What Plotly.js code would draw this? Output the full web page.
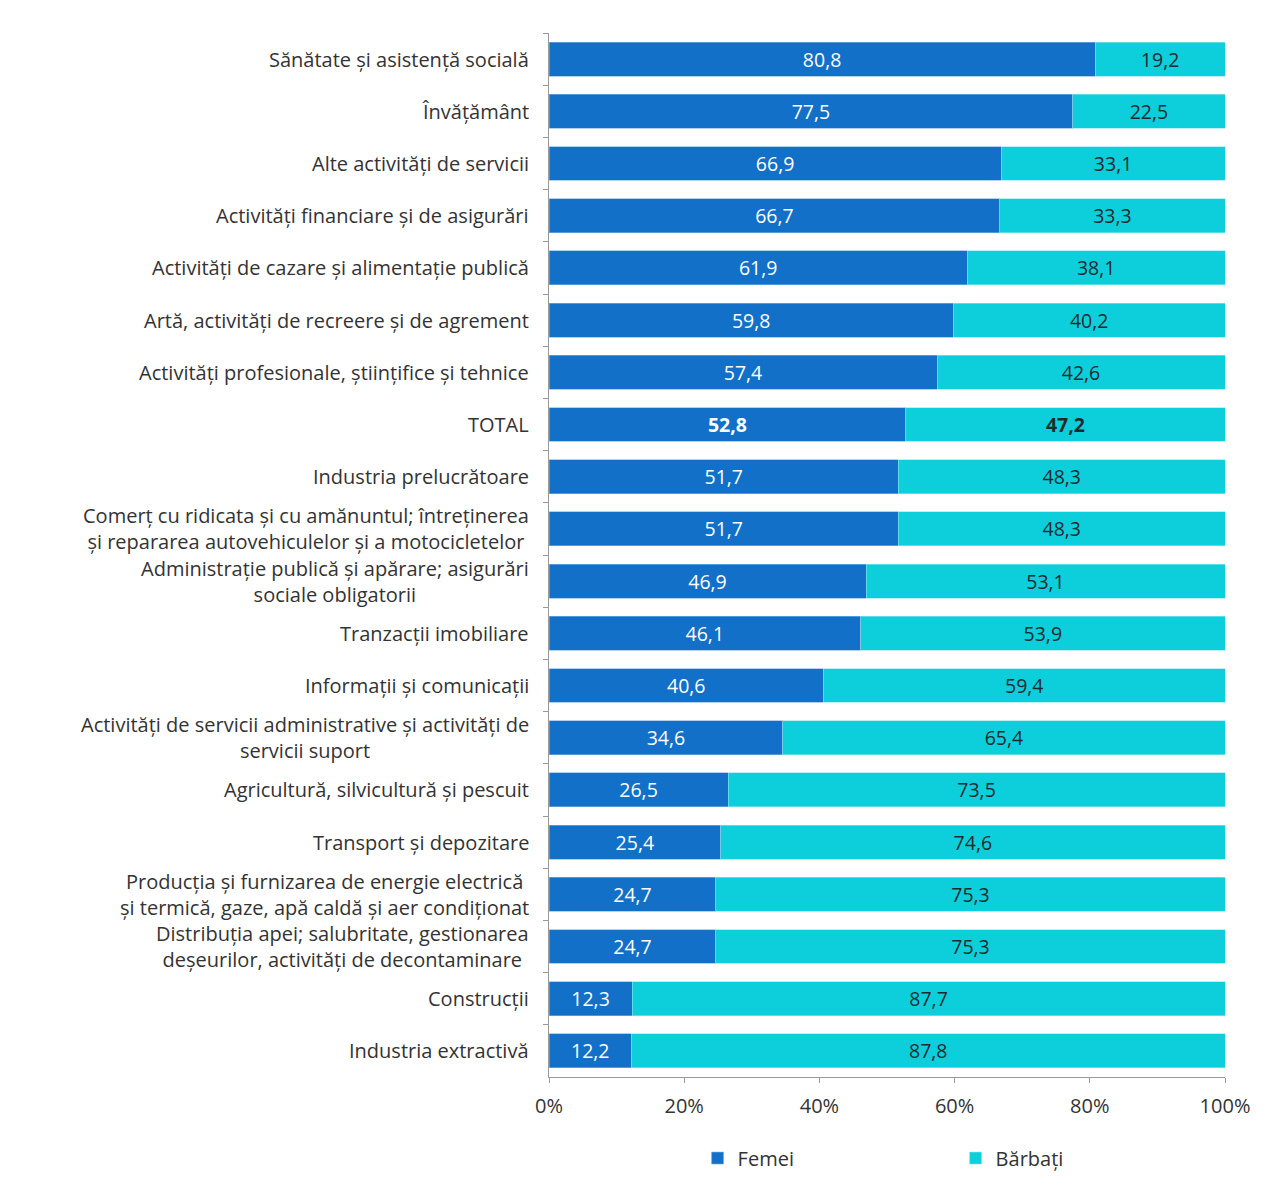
<!DOCTYPE html>
<html>
<head>
<meta charset="utf-8">
<script src="https://cdn.plot.ly/plotly-3.0.1.min.js"></script>
<style>
  body { margin: 0; background: #ffffff; }
  #plot { width: 1280px; height: 1189px; }
</style>
</head>
<body>
<div id="plot"></div>
<script>
// Categories, top to bottom
//
const categories = [
  'Sănătate și asistență socială',
  'Învățământ',
  'Alte activități de servicii',
  'Activități financiare și de asigurări',
  'Activități de cazare și alimentație publică',
  'Artă, activități de recreere și de agrement',
  'Activități profesionale, științifice și tehnice',
  'TOTAL',
  'Industria prelucrătoare',
  'Comerț cu ridicata și cu amănuntul; întreținerea<br>și repararea autovehiculelor și a motocicletelor',
  'Administrație publică și apărare; asigurări<br>sociale obligatorii',
  'Tranzacții imobiliare',
  'Informații și comunicații',
  'Activități de servicii administrative și activități de<br>servicii suport',
  'Agricultură, silvicultură și pescuit',
  'Transport și depozitare',
  'Producția și furnizarea de energie electrică<br>și termică, gaze, apă caldă și aer condiționat',
  'Distribuția apei; salubritate, gestionarea<br>deșeurilor, activități de decontaminare',
  'Construcții',
  'Industria extractivă'
];

// Shares in percent
//
const femei = [80.8, 77.5, 66.9, 66.7, 61.9, 59.8, 57.4, 52.8, 51.7, 51.7,
               46.9, 46.1, 40.6, 34.6, 26.5, 25.4, 24.7, 24.7, 12.3, 12.2];
const barbati = [19.2, 22.5, 33.1, 33.3, 38.1, 40.2, 42.6, 47.2, 48.3, 48.3,
                 53.1, 53.9, 59.4, 65.4, 73.5, 74.6, 75.3, 75.3, 87.7, 87.8];

const xTicks = [0, 20, 40, 60, 80, 100];
const xTickLabels = ['0%', '20%', '40%', '60%', '80%', '100%'];

const FONT = '"Open Sans", Lato, sans-serif';

// format a value with a comma decimal, bold for the TOTAL row
//
function label(v, i) {
  const s = v.toFixed(1).replace('.', ',');
  return categories[i] === 'TOTAL' ? '<b>' + s + '</b>' : s;
}

const traces = [
  {
    type: 'bar',
    orientation: 'h',
    name: 'Femei',
    y: categories,
    x: femei,
    text: femei.map(label),
    texttemplate: '%{text}',
    textposition: 'inside',
    insidetextanchor: 'middle',
    textangle: 0,
    insidetextfont: { family: FONT, size: 19.5, color: '#ffffff' },
    marker: { color: '#1270c8', line: { color: '#7fb4e6', width: 0.6 } },
    hoverinfo: 'none'
  },
  {
    type: 'bar',
    orientation: 'h',
    name: 'Bărbați',
    y: categories,
    x: barbati,
    text: barbati.map(label),
    texttemplate: '%{text}',
    textposition: 'inside',
    insidetextanchor: 'middle',
    textangle: 0,
    insidetextfont: { family: FONT, size: 19.5, color: '#1e2a2e' },
    marker: { color: '#0dcfdb', line: { color: '#8fe6ec', width: 0.6 } },
    hoverinfo: 'none'
  }
];

// Category labels as annotations so that two-line labels are centred
//
const annotations = categories.map((c) => ({
  xref: 'paper',
  yref: 'y',
  x: -0.026,
  y: c,
  xanchor: 'right',
  yanchor: 'middle',
  align: 'center',
  text: c,
  showarrow: false,
  font: { family: FONT, size: 20, color: '#333333' }
}));

const layout = {
  width: 1280,
  height: 1189,
  paper_bgcolor: '#ffffff',
  plot_bgcolor: '#ffffff',
  barmode: 'stack',
  bargap: 0.35,
  showlegend: true,
  font: { family: FONT, color: '#333333' },
  margin: { l: 549, r: 55, t: 33, b: 112, autoexpand: false },
  xaxis: {
    range: [0, 100],
    tickvals: xTicks,
    ticktext: xTickLabels,
    showgrid: false,
    zeroline: false,
    showline: true,
    linecolor: '#9a9a9a',
    linewidth: 1,
    ticks: 'outside',
    ticklen: 5,
    tickcolor: '#9a9a9a',
    ticklabelstandoff: 6,
    tickfont: { family: FONT, size: 20, color: '#333333' }
  },
  yaxis: {
    type: 'category',
    autorange: 'reversed',
    showticklabels: false,
    showgrid: false,
    zeroline: false,
    showline: true,
    linecolor: '#9a9a9a',
    linewidth: 1,
    ticks: 'outside',
    tickson: 'boundaries',
    ticklen: 5,
    tickcolor: '#9a9a9a'
  },
  legend: {
    orientation: 'h',
    traceorder: 'normal',
    xref: 'container',
    yref: 'container',
    x: 0.545,
    xanchor: 'left',
    y: 0.026,
    yanchor: 'middle',
    entrywidth: 213,
    entrywidthmode: 'pixels',
    itemwidth: 30,
    font: { family: FONT, size: 20, color: '#333333' }
  },
  annotations: annotations
};

Plotly.newPlot('plot', traces, layout, { displayModeBar: false, staticPlot: true });
</script>
</body>
</html>
